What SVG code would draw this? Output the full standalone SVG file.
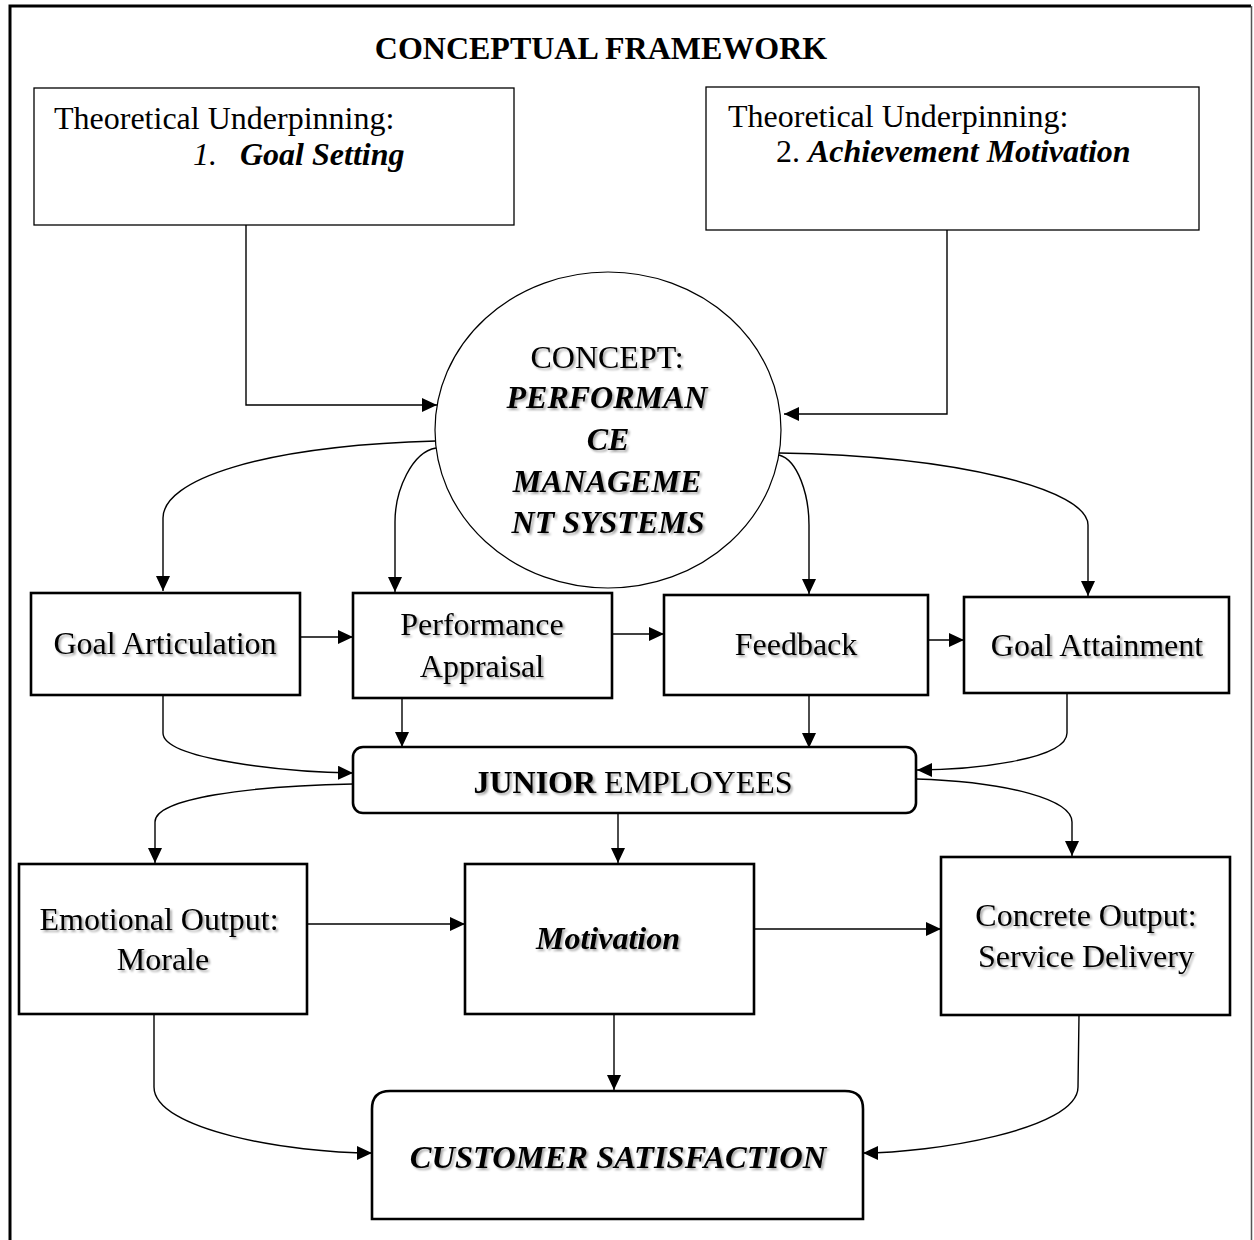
<svg xmlns="http://www.w3.org/2000/svg" width="1254" height="1240" viewBox="0 0 1254 1240">
<defs>
<style>
.t{font-family:"Liberation Serif","Times New Roman",serif;font-size:32px;fill:#000}
.c{text-anchor:middle}
.b{font-weight:bold}
.i{font-style:italic}
.bi{font-weight:bold;font-style:italic}
.sh{filter:url(#shadow)}
.thin{fill:#fff;stroke:#000;stroke-width:1.3}
.box{fill:#fff;stroke:#000;stroke-width:2.6}
.conn path{fill:none;stroke:#000;stroke-width:1.4}
</style>
<filter id="shadow" x="-10%" y="-30%" width="120%" height="160%">
<feDropShadow dx="2" dy="2" stdDeviation="1.2" flood-color="#000" flood-opacity="0.35"/>
</filter>
<marker id="arr" markerUnits="userSpaceOnUse" markerWidth="16" markerHeight="16" refX="15" refY="7" orient="auto">
<path d="M0,0 L15,7 L0,14 z" fill="#000"/>
</marker>
</defs>
<rect width="1254" height="1240" fill="#fff"/>
<g id="frame">
<path d="M10,1240 L10,6 L1251,6" fill="none" stroke="#000" stroke-width="3"/>
<path d="M1251.5,6 L1251.5,1240" fill="none" stroke="#555" stroke-width="1.5"/>
</g>
<g id="title">
<text class="t b c" x="601" y="59">CONCEPTUAL FRAMEWORK</text>
</g>
<g id="theory1">
<rect class="thin" x="34" y="88" width="480" height="137"/>
<text class="t" x="54" y="129">Theoretical Underpinning:</text>
<text class="t i" x="193" y="165">1.</text>
<text class="t bi" x="240" y="165">Goal Setting</text>
</g>
<g id="theory2">
<rect class="thin" x="706" y="87" width="493" height="143"/>
<text class="t" x="728" y="127">Theoretical Underpinning:</text>
<text class="t" x="776" y="162">2.</text>
<text class="t bi" x="808" y="162">Achievement Motivation</text>
</g>
<g id="concept">
<ellipse cx="608" cy="430" rx="173" ry="158" fill="#fff" stroke="#000" stroke-width="1.2"/>
<text class="t c sh" x="607" y="368">CONCEPT:</text>
<text class="t bi c sh" x="607" y="408">PERFORMAN</text>
<text class="t bi c sh" x="608" y="450">CE</text>
<text class="t bi c sh" x="607" y="492">MANAGEME</text>
<text class="t bi c sh" x="608" y="533">NT SYSTEMS</text>
</g>
<g id="goal-articulation">
<rect class="box" x="31" y="593" width="269" height="102"/>
<text class="t c sh" x="165" y="654">Goal Articulation</text>
</g>
<g id="performance-appraisal">
<rect class="box" x="353" y="593" width="259" height="105"/>
<text class="t c sh" x="482" y="635">Performance</text>
<text class="t c sh" x="482" y="677">Appraisal</text>
</g>
<g id="feedback">
<rect class="box" x="664" y="595" width="264" height="100"/>
<text class="t c sh" x="796" y="655">Feedback</text>
</g>
<g id="goal-attainment">
<rect class="box" x="964" y="597" width="265" height="96"/>
<text class="t c sh" x="1097" y="656">Goal Attainment</text>
</g>
<g id="junior-employees">
<rect class="box" x="353" y="747" width="563" height="66" rx="10" ry="10"/>
<text class="t c sh" x="633" y="793"><tspan class="b">JUNIOR</tspan> EMPLOYEES</text>
</g>
<g id="emotional-output">
<rect class="box" x="19" y="864" width="288" height="150"/>
<text class="t c sh" x="159" y="930">Emotional Output:</text>
<text class="t c sh" x="163" y="970">Morale</text>
</g>
<g id="motivation">
<rect class="box" x="465" y="864" width="289" height="150"/>
<text class="t bi c sh" x="608" y="949">Motivation</text>
</g>
<g id="concrete-output">
<rect class="box" x="941" y="857" width="289" height="158"/>
<text class="t c sh" x="1086" y="926">Concrete Output:</text>
<text class="t c sh" x="1086" y="967">Service Delivery</text>
</g>
<g id="customer-satisfaction">
<path class="box" d="M372,1219 L372,1109 Q372,1091 390,1091 L845,1091 Q863,1091 863,1109 L863,1219 Z"/>
<text class="t bi c sh" x="618" y="1168" style="font-size:32.5px">CUSTOMER SATISFACTION</text>
</g>
<g id="connectors" class="conn">
<path d="M246,225 L246,405 L437,405" marker-end="url(#arr)"/>
<path d="M947,230 L947,414 L784,414" marker-end="url(#arr)"/>
<path d="M436,441 C260,446 163,480 163,518 L163,591" marker-end="url(#arr)"/>
<path d="M436,448 C412,452 395,490 395,522 L395,592" marker-end="url(#arr)"/>
<path d="M779,455 C798,460 809,495 809,525 L809,594" marker-end="url(#arr)"/>
<path d="M779,453 C960,456 1088,490 1088,525 L1088,596" marker-end="url(#arr)"/>
<path d="M300,637 L353,637" marker-end="url(#arr)"/>
<path d="M612,634 L664,634" marker-end="url(#arr)"/>
<path d="M928,640 L964,640" marker-end="url(#arr)"/>
<path d="M163,695 L163,733 C163,760 290,772 353,773" marker-end="url(#arr)"/>
<path d="M402,698 L402,747" marker-end="url(#arr)"/>
<path d="M809,695 L809,748" marker-end="url(#arr)"/>
<path d="M1067,693 L1067,733 C1067,760 970,770 917,770" marker-end="url(#arr)"/>
<path d="M353,784 C250,786 155,798 155,822 L155,863" marker-end="url(#arr)"/>
<path d="M618,813 L618,863" marker-end="url(#arr)"/>
<path d="M916,779 C1010,782 1072,800 1072,822 L1072,856" marker-end="url(#arr)"/>
<path d="M307,924 L465,924" marker-end="url(#arr)"/>
<path d="M754,929 L941,929" marker-end="url(#arr)"/>
<path d="M614,1014 L614,1090" marker-end="url(#arr)"/>
<path d="M154,1014 L154,1087 C154,1130 290,1153 372,1153" marker-end="url(#arr)"/>
<path d="M1079,1015 L1078,1087 C1078,1130 930,1153 863,1153" marker-end="url(#arr)"/>
</g>
</svg>
